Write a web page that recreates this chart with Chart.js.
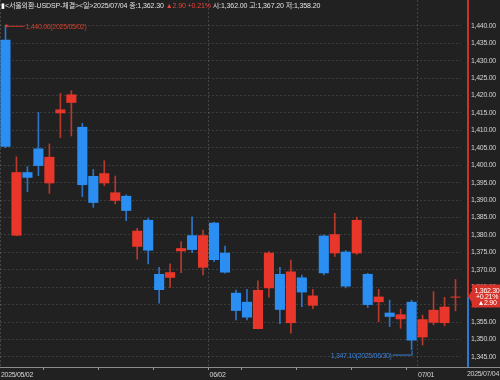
<!DOCTYPE html>
<html>
<head>
<meta charset="utf-8">
<script src="https://cdn.jsdelivr.net/npm/chart.js@4.4.1/dist/chart.umd.min.js"></script>
<style>
  html, body { margin: 0; padding: 0; background: #212121; }
  #wrap { position: relative; width: 500px; height: 380px; }
</style>
</head>
<body>
<div id="wrap"><canvas id="myChart" width="500" height="380"></canvas></div>
<script>
const dates = [
  "2025/05/02", "2025/05/07", "2025/05/08", "2025/05/09", "2025/05/12", "2025/05/13", "2025/05/14",
  "2025/05/15", "2025/05/16", "2025/05/19", "2025/05/20", "2025/05/21", "2025/05/22", "2025/05/23",
  "2025/05/26", "2025/05/27", "2025/05/28", "2025/05/29", "2025/05/30", "2025/06/02", "2025/06/04",
  "2025/06/05", "2025/06/09", "2025/06/10", "2025/06/11", "2025/06/12", "2025/06/13", "2025/06/16",
  "2025/06/17", "2025/06/18", "2025/06/19", "2025/06/20", "2025/06/23", "2025/06/24", "2025/06/25",
  "2025/06/26", "2025/06/27", "2025/06/30", "2025/07/01", "2025/07/02", "2025/07/03", "2025/07/04"
];
const opens = [
  1436.0, 1379.8, 1398.0, 1404.8, 1394.8, 1414.9, 1417.9, 1411.0, 1396.9, 1394.8, 1389.8,
  1391.2, 1376.6, 1384.3, 1368.8, 1367.7, 1375.3, 1379.9, 1370.6, 1383.5, 1374.9,
  1363.4, 1360.8, 1353.0, 1364.7, 1368.8, 1354.7, 1367.8, 1359.7, 1379.8, 1374.7,
  1375.2, 1374.7, 1368.8, 1360.7, 1357.7, 1355.8, 1360.8, 1350.6, 1354.8, 1354.7, 1362.0
];
const highs = [
  1440.0, 1402.4, 1399.6, 1415.1, 1406.1, 1420.6, 1421.4, 1412.0, 1398.8, 1401.3, 1396.9,
  1391.5, 1381.9, 1384.8, 1370.7, 1371.7, 1378.1, 1385.2, 1381.4, 1383.7, 1376.8,
  1364.2, 1364.4, 1366.8, 1375.2, 1370.7, 1372.8, 1368.5, 1364.4, 1380.0, 1386.2,
  1375.5, 1385.1, 1369.0, 1364.4, 1361.3, 1358.7, 1361.3, 1357.0, 1363.7, 1362.1, 1367.2
];
const lows = [
  1405.0, 1379.8, 1392.4, 1397.0, 1391.9, 1407.9, 1408.4, 1391.0, 1387.9, 1394.1, 1388.9,
  1384.1, 1373.0, 1371.7, 1360.4, 1364.9, 1369.2, 1374.9, 1368.5, 1372.3, 1369.0,
  1355.6, 1355.6, 1353.0, 1362.1, 1354.5, 1351.8, 1359.4, 1358.8, 1368.5, 1373.8,
  1364.8, 1374.4, 1359.2, 1355.1, 1353.7, 1353.2, 1347.1, 1348.4, 1354.2, 1353.9, 1358.2
];
const closes = [
  1405.3, 1398.0, 1396.4, 1399.8, 1402.4, 1416.0, 1420.3, 1394.3, 1389.2, 1397.7, 1392.2,
  1386.9, 1381.2, 1375.5, 1364.2, 1369.3, 1376.2, 1375.7, 1379.9, 1372.8, 1369.2,
  1358.2, 1356.3, 1364.2, 1374.9, 1358.5, 1369.5, 1363.5, 1362.6, 1369.0, 1380.2,
  1365.2, 1384.3, 1359.9, 1362.3, 1356.5, 1357.2, 1349.7, 1355.8, 1358.5, 1359.4, 1362.3
];

// axis labels
const yTicks = [1345, 1350, 1355, 1360, 1365, 1370, 1375, 1380, 1385, 1390, 1395, 1400, 1405, 1410, 1415, 1420, 1425, 1430, 1435, 1440];
const monthStarts = ["2025/05/02", "2025/06/02", "2025/07/01"];
const monthTexts = ["2025/05/02", "06/02", "07/01"];
const weekStarts = ["2025/05/12", "2025/05/19", "2025/05/26", "2025/06/02", "2025/06/09", "2025/06/16", "2025/06/23", "2025/06/30"];
const titleName = "<서울외환-USDSP-체결><일>";

const FONT = "'Liberation Sans', 'Noto Sans CJK KR', sans-serif";
const TIGHT = "-0.3px";
const UP = "#e8372a";
const DOWN = "#2a8ef2";

function fmt(v) {
  return v.toLocaleString("en-US", { minimumFractionDigits: 2, maximumFractionDigits: 2 });
}

const bodyColors = [];
const wickColors = [];
for (let i = 0; i < dates.length; i++) {
  const up = closes[i] >= opens[i];
  bodyColors.push(up ? UP : DOWN);
  wickColors.push(up ? "#b8392c" : "#2d74c8");
}
const monthIdx = monthStarts.map(d => dates.indexOf(d));
const weekIdx = weekStarts.map(d => dates.indexOf(d));

const bgPlugin = {
  id: "bg",
  beforeDraw(chart) {
    const c = chart.ctx;
    c.fillStyle = "#212121";
    c.fillRect(0, 0, chart.width, chart.height);
    // narrow text like the original terminal font
    c.letterSpacing = TIGHT;
  }
};

const overlayPlugin = {
  id: "overlay",
  afterDraw(chart) {
    const c = chart.ctx;
    const xs = chart.scales.x;
    const ys = chart.scales.y;
    const area = chart.chartArea;
    const axisX = area.right + 7;
    const last = dates.length - 1;
    const cur = closes[last];
    const chg = cur - closes[last - 1];
    const pct = chg / closes[last - 1] * 100;
    const yCur = ys.getPixelForValue(cur);
    c.save();
    c.letterSpacing = TIGHT;

    // bottom axis line
    c.strokeStyle = "#8c8c8c";
    c.lineWidth = 1;
    c.beginPath();
    c.moveTo(0, area.bottom + 0.5);
    c.lineTo(chart.width, area.bottom + 0.5);
    c.stroke();

    // right axis line, red above the last price, blue below
    c.lineWidth = 2;
    c.strokeStyle = "#c8342a";
    c.beginPath();
    c.moveTo(axisX, 0);
    c.lineTo(axisX, yCur);
    c.stroke();
    c.strokeStyle = "#2f78d0";
    c.beginPath();
    c.moveTo(axisX, yCur);
    c.lineTo(axisX, area.bottom);
    c.stroke();

    // last date under the y axis
    c.font = "7px " + FONT;
    c.fillStyle = "#d0d0d0";
    c.textAlign = "right";
    c.textBaseline = "middle";
    c.fillText(dates[last], chart.width - 1, area.bottom + 7);

    // price box
    const bx = axisX + 4;
    c.fillStyle = "#d8332a";
    c.beginPath();
    c.moveTo(axisX, yCur);
    c.lineTo(bx, yCur - 6);
    c.lineTo(bx, yCur - 12);
    c.lineTo(chart.width, yCur - 12);
    c.lineTo(chart.width, yCur + 11);
    c.lineTo(bx, yCur + 11);
    c.lineTo(bx, yCur + 6);
    c.closePath();
    c.fill();
    c.fillStyle = "#ffffff";
    c.font = "7px " + FONT;
    c.textAlign = "center";
    const bcx = (bx + chart.width) / 2 + 1;
    c.fillText(fmt(cur), bcx, yCur - 6);
    c.fillText("+" + pct.toFixed(2) + "%", bcx, yCur);
    c.fillText("▲" + chg.toFixed(2), bcx, yCur + 6);

    // highest point marker
    const hi = highs.indexOf(Math.max(...highs));
    const hx = xs.getPixelForValue(hi);
    const hy = ys.getPixelForValue(highs[hi]);
    c.strokeStyle = "#c8392e";
    c.fillStyle = "#d0402f";
    c.lineWidth = 1;
    c.beginPath();
    c.arc(hx + 1, hy, 1.5, 0, Math.PI * 2);
    c.fill();
    c.beginPath();
    c.moveTo(hx + 1, hy + 0.5);
    c.lineTo(hx + 19, hy + 0.5);
    c.stroke();
    c.font = "7px " + FONT;
    c.textAlign = "left";
    c.fillText(fmt(highs[hi]) + "(" + dates[hi] + ")", hx + 20, hy + 1);

    // lowest point marker
    const lo = lows.indexOf(Math.min(...lows));
    const lx = xs.getPixelForValue(lo);
    const ly = ys.getPixelForValue(lows[lo]);
    c.strokeStyle = "#3a80d8";
    c.fillStyle = "#3a80d8";
    c.beginPath();
    c.moveTo(lx + 0.5, ly + 1);
    c.lineTo(lx + 0.5, ly + 5.5);
    c.lineTo(lx - 19, ly + 5.5);
    c.stroke();
    c.textAlign = "right";
    c.fillText(fmt(lows[lo]) + "(" + dates[lo] + ")", lx - 20, ly + 6);

    // header line
    const o = opens[last], h = highs[last], l = lows[last];
    const parts = [
      ["▮", "#ffffff"],
      [titleName + dates[last] + " 종:" + fmt(cur) + " ", "#e2e2e2"],
      ["▲" + chg.toFixed(2) + " +" + pct.toFixed(2) + "% ", "#e8443a"],
      ["시:" + fmt(o) + " 고:" + fmt(h) + " 저:" + fmt(l), "#e2e2e2"]
    ];
    c.font = "7px " + FONT;
    c.letterSpacing = "-0.1px";
    c.textAlign = "left";
    let tx = 1;
    for (let i = 0; i < parts.length; i++) {
      c.fillStyle = parts[i][1];
      c.fillText(parts[i][0], tx, 6);
      tx += c.measureText(parts[i][0]).width;
    }
    c.restore();
  }
};

function renderChart() {
  const ctx = document.getElementById("myChart");

  const wicks = [];
  const bodies = [];
  for (let i = 0; i < dates.length; i++) {
    wicks.push([lows[i], highs[i]]);
    bodies.push([opens[i], closes[i]]);
  }

  const config = {
    type: "bar",
    data: {
      labels: dates,
      datasets: [
        {
          label: "body",
          data: bodies,
          backgroundColor: bodyColors,
          barPercentage: 0.92,
          categoryPercentage: 1,
          minBarLength: 1,
          grouped: false,
          order: 1,
        },
        {
          label: "wick",
          data: wicks,
          backgroundColor: wickColors,
          barThickness: 1,
          grouped: false,
          order: 2,
        },
      ],
    },
    options: {
      responsive: false,
      animation: false,
      layout: { padding: 0 },
      plugins: { legend: { display: false }, tooltip: { enabled: false } },
      scales: {
        x: {
          grid: {
            offset: true,
            color: (c) => (monthIdx.includes(c.index) ? "rgba(255,255,255,0.16)" : "transparent"),
            tickColor: (c) => (weekIdx.includes(c.index) ? "#9a9a9a" : "transparent"),
            tickLength: 3,
          },
          border: { display: false, dash: [2, 2] },
          ticks: {
            autoSkip: false,
            maxRotation: 0,
            align: "start",
            labelOffset: -4.5,
            padding: 1,
            color: "#d4d4d4",
            font: { size: 7, family: FONT },
            callback: (v, i) => {
              const k = monthStarts.indexOf(dates[i]);
              return k >= 0 ? monthTexts[k] : "";
            },
          },
          afterFit: (s) => {
            s.height = 13;
            s.paddingLeft = 0;
            s.paddingRight = 0;
          },
        },
        y: {
          position: "right",
          min: 1342.1,
          max: 1447.4,
          afterBuildTicks: (s) => {
            s.ticks = yTicks.map((v) => ({ value: v }));
          },
          grid: { color: "rgba(255,255,255,0.12)", drawTicks: false },
          border: { display: false, dash: [2, 2] },
          ticks: {
            padding: 10,
            color: "#d4d4d4",
            font: { size: 7, family: FONT },
            callback: (v) => fmt(v),
          },
          afterFit: (s) => {
            s.width = 39;
            s.paddingTop = 0;
            s.paddingBottom = 0;
          },
        },
      },
    },
    plugins: [bgPlugin, overlayPlugin],
  };
  new Chart(ctx, config);
}

renderChart();
</script>
</body>
</html>
